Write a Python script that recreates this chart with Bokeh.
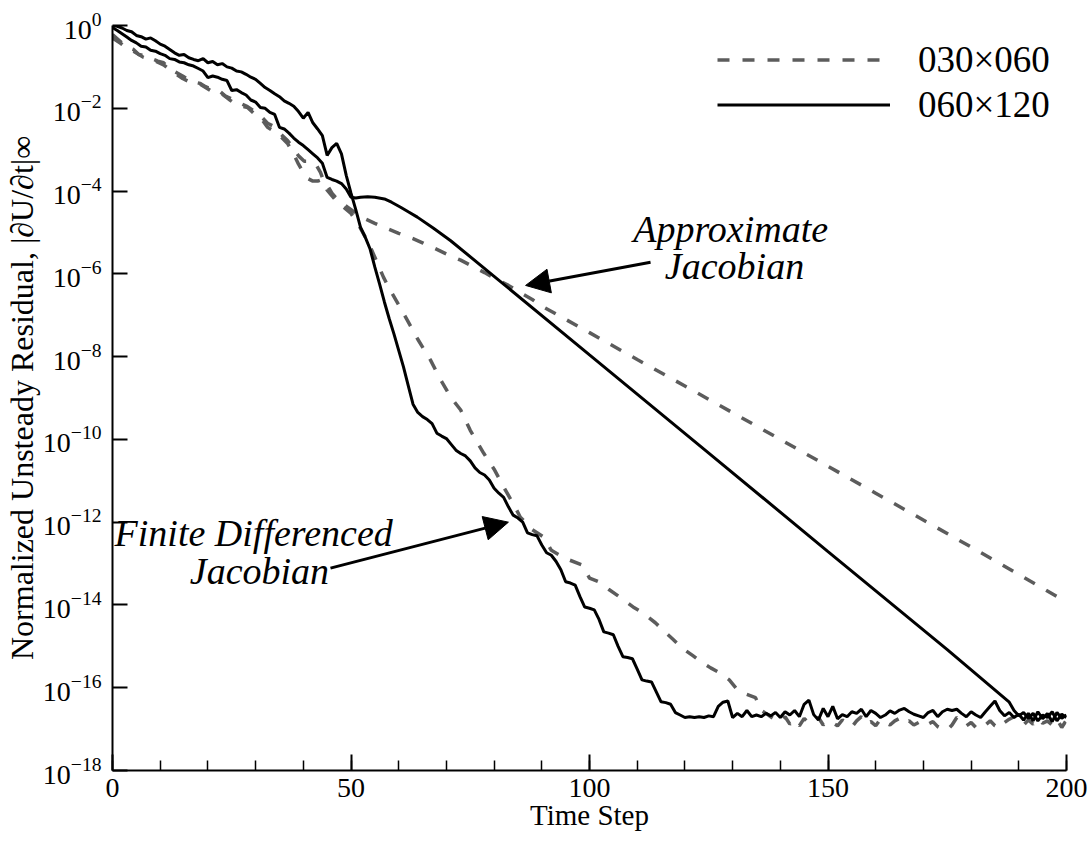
from bokeh.plotting import figure
from bokeh.models import (FixedTicker, Label, Arrow, NormalHead, Legend, LegendItem,
                          LogTickFormatter)
from bokeh.embed import file_html
from bokeh.resources import INLINE

SERIF = "Liberation Serif"
GRAY = "#5c5c5c"

# ---------------- data (log10 of residual) ----------------
# 060x120, finite differenced Jacobian (solid)
fd060_x = list(range(0, 118)) + list(range(118, 201))
fd060_e = [0.0, -0.02, -0.06, -0.12, -0.15, -0.24, -0.27, -0.33, -0.30, -0.37,
           -0.45, -0.50, -0.58, -0.66, -0.72, -0.70, -0.78, -0.82, -0.85, -0.80,
           -0.90, -0.87, -0.95, -0.92, -1.00, -1.03, -1.10, -1.12, -1.18, -1.25,
           -1.30, -1.40, -1.50, -1.57, -1.65, -1.72, -1.82, -1.88, -1.95, -2.08,
           -2.24, -2.10, -2.35, -2.50, -2.66, -3.14, -2.95, -2.85, -3.10, -3.62,
           -4.05, -4.45, -4.88, -5.12, -5.40, -5.84, -6.25, -6.68, -7.08, -7.45,
           -7.85, -8.25, -8.70, -9.15, -9.35, -9.45, -9.52, -9.62, -9.85, -9.92,
           -9.98, -10.12, -10.26, -10.34, -10.40, -10.52, -10.69, -10.80, -10.86, -10.98,
           -11.18, -11.30, -11.40, -11.63, -11.83, -11.90, -12.00, -12.26, -12.30, -12.33,
           -12.55, -12.74, -12.80, -12.95, -13.15, -13.44, -13.47, -13.52, -13.80, -14.05,
           -14.08, -14.12, -14.35, -14.65, -14.68, -14.72, -15.00, -15.25, -15.27, -15.30,
           -15.55, -15.81, -15.84, -15.86, -16.10, -16.34, -16.36, -16.40,
           -16.60, -16.66, -16.72, -16.70, -16.72, -16.70, -16.72, -16.68, -16.70, -16.45,
           -16.35, -16.32, -16.72, -16.62, -16.70, -16.55, -16.70, -16.66, -16.70, -16.62,
           -16.68, -16.60, -16.72, -16.58, -16.66, -16.55, -16.70, -16.40, -16.30, -16.65,
           -16.78, -16.50, -16.70, -16.45, -16.75, -16.65, -16.70, -16.58, -16.62, -16.52,
           -16.70, -16.55, -16.62, -16.72, -16.66, -16.56, -16.62, -16.54, -16.50, -16.58,
           -16.64, -16.68, -16.72, -16.60, -16.55, -16.70, -16.58, -16.52, -16.55, -16.52,
           -16.62, -16.70, -16.58, -16.66, -16.72, -16.58, -16.45, -16.32, -16.55, -16.68,
           -16.60, -16.72, -16.64, -16.78, -16.62, -16.80, -16.58, -16.75, -16.62, -16.82,
           -16.60, -16.74, -16.66]

# 060x120, approximate Jacobian (solid)
ap060_x = [0, 1, 2, 3, 4, 5, 6, 7, 8, 9, 10, 11, 12, 13, 14, 15, 16, 17, 18, 19,
           20, 21, 22, 23, 24, 25, 26, 27, 28, 29, 30, 31, 32, 33, 34, 35, 36, 37, 38, 39,
           40, 41, 42, 43, 44, 45, 46, 47, 48, 49, 50, 51, 52, 53.5, 55, 57, 58.5, 60.4,
           62, 63.9, 67.3, 70.9, 80, 100, 125, 150, 175, 188,
           189, 190, 191, 192, 193, 194, 195, 196, 197, 198, 199, 200]
ap060_e = [-0.05, -0.12, -0.20, -0.28, -0.36, -0.42, -0.50, -0.52, -0.60, -0.62,
           -0.68, -0.72, -0.80, -0.82, -0.88, -0.90, -0.95, -0.98, -1.04, -1.10,
           -1.26, -1.22, -1.25, -1.30, -1.33, -1.57, -1.55, -1.62, -1.68, -1.80,
           -1.85, -1.98, -2.00, -2.10, -2.15, -2.46, -2.50, -2.60, -2.72, -2.82,
           -2.90, -3.00, -3.10, -3.20, -3.33, -3.67, -3.72, -3.76, -3.82, -3.95,
           -4.15, -4.17, -4.15, -4.14, -4.15, -4.19, -4.27, -4.39,
           -4.50, -4.63, -4.90, -5.20, -6.06, -7.96, -10.33, -12.71, -15.08, -16.35,
           -16.55, -16.68, -16.60, -16.74, -16.62, -16.80, -16.66, -16.72, -16.58, -16.80,
           -16.64, -16.72]

# 030x060, approximate Jacobian (dashed)
ap030_x = [0, 1.7, 3, 4.4, 6.5, 8.6, 10.7, 12.8, 14.7, 16.8, 18.4, 20.5, 22.6, 24.7,
           26.2, 28.3, 29.6, 31, 32.5, 34.6, 36.7, 37.9, 39, 40, 41, 42, 43, 44, 45, 46,
           47, 48, 50, 52, 55, 57, 60, 63, 65, 68, 70, 73, 75, 78, 80, 83, 85, 88, 90,
           95, 100, 110, 120, 140, 160, 180, 200]
ap030_e = [-0.30, -0.43, -0.55, -0.62, -0.77, -0.84, -0.95, -1.13, -1.28, -1.40, -1.42,
           -1.57, -1.62, -1.81, -1.93, -1.98, -2.12, -2.22, -2.46, -2.61, -2.85, -3.09,
           -3.35, -3.55, -3.70, -3.76, -3.76, -3.72, -3.85, -4.05, -4.18, -4.28, -4.45,
           -4.62, -4.78, -4.88, -5.02, -5.15, -5.25, -5.41, -5.52, -5.67, -5.79, -5.97,
           -6.10, -6.28, -6.42, -6.62, -6.78, -7.10, -7.42, -8.07, -8.71, -10.0, -11.3,
           -12.6, -13.93]

# 030x060, finite differenced Jacobian (dashed)
fd030_x = [0, 1, 2, 3, 4.4, 5.5, 6.5, 7.5, 8.6, 9.5, 10.7, 11.8, 12.8, 14.7, 15.8, 16.8,
           18.4, 19.5, 20.5, 22.6, 23.6, 24.7, 26.2, 27.2, 28.3, 29.6, 31, 32.5, 33.5, 34.6,
           36.7, 38, 39, 40.2, 41, 42.5, 43.6, 45, 47, 50, 52, 53.7, 55, 56.8, 58, 60,
           61.8, 64, 66.7, 68.5, 70.9, 73, 75, 77.8, 80, 82, 84, 85.5, 88, 90.4, 92, 95,
           98.4, 100, 101.9, 104, 106, 109.4, 111, 113.8, 115.5, 117.6, 119.5, 121.6,
           123.5, 125.4, 127, 129.3, 131, 132.7, 134.8, 136, 137] + list(range(138, 201))
fd030_e = [-0.22, -0.32, -0.42, -0.52, -0.58, -0.70, -0.72, -0.80, -0.82, -0.86, -0.90,
           -1.02, -1.10, -1.22, -1.30, -1.36, -1.40, -1.48, -1.52, -1.60, -1.70, -1.76,
           -1.86, -1.90, -1.96, -2.06, -2.18, -2.36, -2.42, -2.55, -2.78, -2.98, -3.15,
           -3.28, -3.28, -3.33, -3.55, -3.98, -4.25, -4.54, -4.90, -5.26, -5.60, -6.08,
           -6.35, -6.75, -7.12, -7.58, -8.09, -8.50, -8.98, -9.29, -9.78, -10.33, -10.72,
           -11.15, -11.55, -11.88, -12.18, -12.36, -12.68, -12.88, -13.03, -13.35, -13.44,
           -13.62, -13.78, -14.07, -14.18, -14.43, -14.62, -14.84, -15.05, -15.22, -15.38,
           -15.52, -15.62, -15.81, -16.05, -16.15, -16.24, -16.55, -16.62,
           -16.70, -16.78, -16.82, -16.70, -16.88, -16.78, -16.92, -16.74, -16.86, -16.80,
           -16.72, -16.90, -16.80, -16.85, -16.92, -16.78, -16.86, -16.95, -16.80, -16.70,
           -16.88, -16.82, -16.92, -16.76, -16.84, -16.90, -16.80, -16.74, -16.86, -16.80,
           -16.90, -16.84, -16.78, -16.88, -16.82, -16.94, -17.00, -17.02, -16.90, -16.72,
           -16.80, -16.92, -16.84, -16.96, -16.86, -16.90, -16.80, -16.92, -16.98, -16.84,
           -16.76, -16.70, -16.82, -16.90, -16.78, -16.88, -16.74, -16.86, -16.80, -16.90,
           -16.76, -16.96, -16.78]

x_major = [0, 50, 100, 150, 200]
x_minor = list(range(0, 201, 10))
y_exp = [0, -2, -4, -6, -8, -10, -12, -14, -16, -18]
legend_labels = ["030\u00d7060", "060\u00d7120"]
x_title = "Time Step"
y_title = "Normalized Unsteady Residual, |\u2202U/\u2202t|\u221e"


def pw(e):
    return [10.0 ** v for v in e]


p = figure(width=1090, height=842, x_range=(0, 200), y_range=(1e-18, 1.0),
           y_axis_type="log", output_backend="svg", toolbar_location=None,
           min_border_left=112, min_border_right=24, min_border_top=25,
           min_border_bottom=72)
p.outline_line_color = None
p.xgrid.visible = False
p.ygrid.visible = False
p.background_fill_color = "white"
p.border_fill_color = "white"

xa = p.xaxis[0]
xa.ticker = FixedTicker(ticks=x_major, minor_ticks=x_minor)
xa.major_tick_in = 16
xa.major_tick_out = 0
xa.minor_tick_in = 10
xa.minor_tick_out = 0
xa.axis_line_width = 2
xa.major_tick_line_width = 2
xa.minor_tick_line_width = 1.5
xa.major_label_text_font = SERIF
xa.major_label_text_font_size = "28px"
xa.major_label_text_color = "black"
xa.major_label_standoff = 8
xa.axis_label = x_title
xa.axis_label_text_font = SERIF
xa.axis_label_text_font_size = "29px"
xa.axis_label_text_font_style = "normal"
xa.axis_label_text_color = "black"
xa.axis_label_standoff = -1

ya = p.yaxis[0]
ya.ticker = FixedTicker(ticks=[10.0 ** e for e in y_exp], minor_ticks=[])
ya.formatter = LogTickFormatter()
ya.major_tick_in = 15
ya.major_tick_out = 0
ya.minor_tick_in = 0
ya.minor_tick_out = 0
ya.axis_line_width = 2
ya.major_tick_line_width = 2
ya.major_label_text_font = SERIF
ya.major_label_text_font_size = "28px"
ya.major_label_text_color = "black"
ya.major_label_standoff = 11
ya.axis_label = y_title
ya.axis_label_text_font = SERIF
ya.axis_label_text_font_size = "32px"
ya.axis_label_text_font_style = "normal"
ya.axis_label_text_color = "black"
ya.axis_label_standoff = 0

# curves
r_fd030 = p.line(fd030_x, pw(fd030_e), line_color=GRAY, line_width=3.5, line_dash="12 13")
r_ap030 = p.line(ap030_x, pw(ap030_e), line_color=GRAY, line_width=3.5, line_dash="12 13")
r_fd060 = p.line(fd060_x, pw(fd060_e), line_color="black", line_width=3)
r_ap060 = p.line(ap060_x, pw(ap060_e), line_color="black", line_width=3)

# annotations
for tx, lx, ly in [("Approximate", 129.6, -5.26), ("Jacobian", 130.4, -6.155),
                   ("Finite Differenced", 29.6, -12.6), ("Jacobian", 30.8, -13.52)]:
    p.add_layout(Label(x=lx, y=10 ** ly, y_offset=14, text=tx, text_align="center",
                       text_baseline="alphabetic", text_font=SERIF, text_font_style="italic",
                       text_font_size="38px", text_color="black"))

for (x0, y0, x1, y1) in [(112.8, -5.72, 86.6, -6.28), (45.7, -13.11, 83.0, -12.0)]:
    p.add_layout(Arrow(end=NormalHead(size=24, fill_color="black", line_color="black", line_width=1),
                       x_start=x0, y_start=10 ** y0, x_end=x1, y_end=10 ** y1,
                       line_width=3, line_color="black"))

legend = Legend(items=[LegendItem(label=legend_labels[0], renderers=[r_ap030]),
                       LegendItem(label=legend_labels[1], renderers=[r_ap060])],
                location=(605, 643), glyph_width=173, glyph_height=45, label_height=45,
                label_standoff=28, spacing=0, padding=0, margin=0,
                border_line_color=None, background_fill_alpha=0,
                label_text_font=SERIF, label_text_font_size="37px", label_text_color="black")
p.add_layout(legend)

open("out.html", "w").write(file_html(p, INLINE))
